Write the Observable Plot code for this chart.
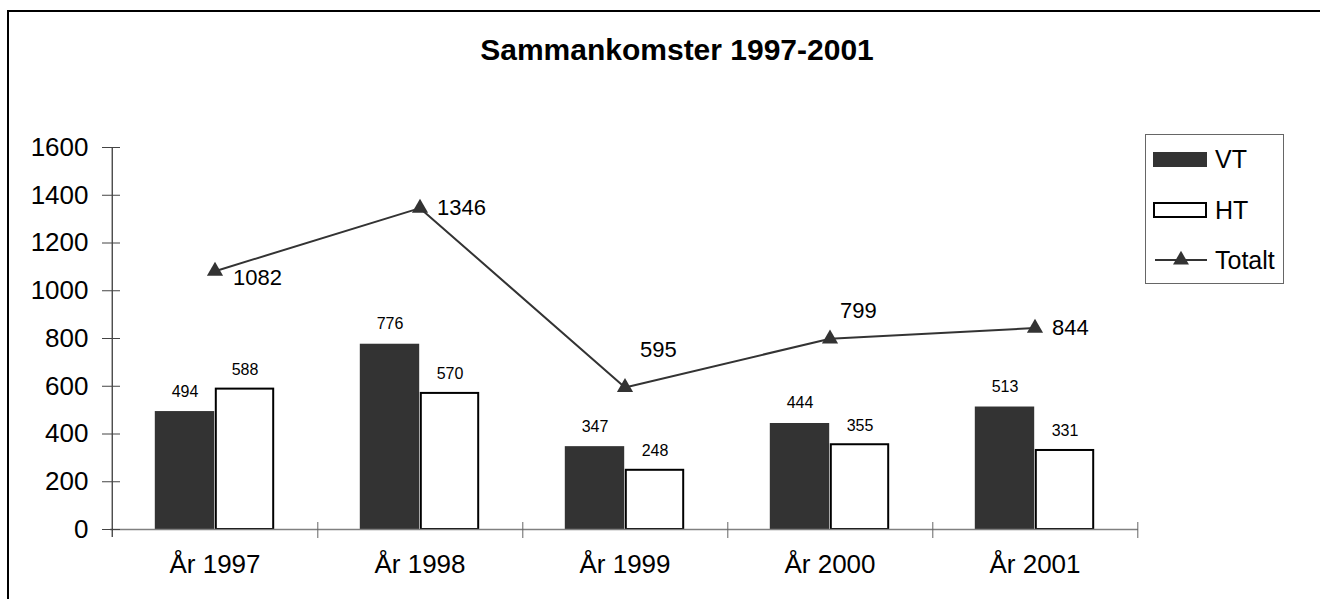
<!DOCTYPE html>
<html>
<head>
<meta charset="utf-8">
<script src="https://cdn.jsdelivr.net/npm/d3@7"></script>
<script src="https://cdn.jsdelivr.net/npm/@observablehq/plot@0.6"></script>
<style>
  html, body { margin: 0; padding: 0; background: #fff; overflow: hidden; }
  body { width: 1320px; height: 599px; position: relative; font-family: "Liberation Sans", Arial, sans-serif; }
  #border { position: absolute; left: 7px; top: 10px; width: 1311px; height: 587px; border-left: 2px solid #000; border-top: 2px solid #000; }
  #chart { position: absolute; left: 0; top: 0; }
  #title { position: absolute; left: 677px; top: 35px; transform: translateX(-50%); font-weight: bold; font-size: 30px; line-height: 30px; white-space: nowrap; color: #000; }
  #legend { position: absolute; left: 1145px; top: 134px; width: 139px; height: 150px; box-sizing: border-box; border: 1px solid #666; background: #fff; }
  .item { position: absolute; left: 0; height: 30px; width: 137px; display: flex; align-items: center; }
  .item svg { flex: none; }
  .item span { font-size: 25px; line-height: 30px; color: #000; margin-left: 1px; }
</style>
</head>
<body>
<div id="border"></div>
<div id="chart"></div>
<div id="title"></div>
<div id="legend"></div>
<script>
// ---- data ----
const categories = ["År 1997", "År 1998", "År 1999", "År 2000", "År 2001"];
const vtValues = [494, 776, 347, 444, 513];
const htValues = [588, 570, 248, 355, 331];
const totalValues = [1082, 1346, 595, 799, 844];
const yTicks = [0, 200, 400, 600, 800, 1000, 1200, 1400, 1600];
const seriesNames = ["VT", "HT", "Totalt"];
const totalLabelPlacement = ["belowRight", "right", "above", "aboveNear", "right"];
const chartTitle = "Sammankomster 1997-2001";

// ---- layout ----
const W = 1320, H = 599;
const mL = 110, mR = 182, mT = 147, mB = 70;
const plotW = W - mL - mR, plotH = H - mT - mB;
const bw = plotW / categories.length;
const barW = 60;
const dark = "#333333";

const rows = categories.map((c, i) => ({
  cat: c, vt: vtValues[i], ht: htValues[i], total: totalValues[i], place: totalLabelPlacement[i]
}));

const placeOffsets = {
  right: {dx: 17, dy: 0},
  belowRight: {dx: 18, dy: 7},
  above: {dx: 15, dy: -37},
  aboveNear: {dx: 10, dy: -28}
};

const labelMarks = Object.entries(placeOffsets).map(([p, o]) =>
  Plot.text(rows.filter(d => d.place === p), {
    x: "cat", y: "total", text: d => String(d.total),
    dx: o.dx, dy: o.dy, textAnchor: "start", lineAnchor: "middle",
    fontSize: 22, fill: "#000"
  })
);

const chart = Plot.plot({
  width: W, height: H,
  marginLeft: mL, marginRight: mR, marginTop: mT, marginBottom: mB,
  style: {fontFamily: '"Liberation Sans", Arial, sans-serif', background: "transparent", overflow: "visible", color: "#000"},
  x: {type: "band", domain: categories, paddingInner: 0, paddingOuter: 0, label: null},
  y: {domain: [0, 1600], label: null},
  marks: [
    Plot.barY(rows, {x: "cat", y: "vt", fill: dark, insetLeft: bw / 2 - barW, insetRight: bw / 2}),
    Plot.barY(rows, {x: "cat", y: "ht", fill: "#fff", stroke: "#000", strokeWidth: 2,
      insetLeft: bw / 2 + 1, insetRight: bw / 2 - barW + 1}),
    Plot.ruleY([0], {stroke: "#808080", strokeWidth: 1.5}),
    Plot.tickX([categories[0]], {x: d => d, dx: -bw / 2, insetBottom: -8, stroke: "#000", strokeWidth: 1}),
    Plot.tickY(yTicks, {y: d => d, insetRight: plotW - 18, dx: -8, stroke: "#444", strokeWidth: 1}),
    Plot.tickX(categories, {x: d => d, dx: bw / 2, insetTop: plotH - 16, dy: 9, stroke: "#666", strokeWidth: 1}),
    Plot.axisY({ticks: yTicks, tickSize: 0, tickPadding: 22, fontSize: 26, label: null, tickFormat: d => String(d)}),
    Plot.axisX({tickSize: 0, tickPadding: 25, fontSize: 26, label: null}),
    Plot.text(rows, {x: "cat", y: "vt", text: d => String(d.vt), dx: -barW / 2, dy: -15, lineAnchor: "bottom", fontSize: 16, fill: "#000"}),
    Plot.text(rows, {x: "cat", y: "ht", text: d => String(d.ht), dx: barW / 2, dy: -14, lineAnchor: "bottom", fontSize: 16, fill: "#000"}),
    Plot.line(rows, {x: "cat", y: "total", stroke: dark, strokeWidth: 2}),
    Plot.dot(rows, {x: "cat", y: "total", symbol: "triangle", r: 6, fill: dark, stroke: "none"}),
    ...labelMarks
  ]
});
document.getElementById("chart").appendChild(chart);

document.getElementById("title").textContent = chartTitle;

// ---- legend ----
const legend = document.getElementById("legend");
const ns = "http://www.w3.org/2000/svg";
const centers = [24, 75, 125];
seriesNames.forEach((name, i) => {
  const item = document.createElement("div");
  item.className = "item";
  item.style.top = (centers[i] - 15) + "px";
  const svg = document.createElementNS(ns, "svg");
  svg.setAttribute("width", 68);
  svg.setAttribute("height", 30);
  if (i === 0) {
    const r = document.createElementNS(ns, "rect");
    r.setAttribute("x", 7); r.setAttribute("y", 8); r.setAttribute("width", 54); r.setAttribute("height", 15);
    r.setAttribute("fill", dark);
    svg.appendChild(r);
  } else if (i === 1) {
    const r = document.createElementNS(ns, "rect");
    r.setAttribute("x", 8); r.setAttribute("y", 8); r.setAttribute("width", 52); r.setAttribute("height", 14);
    r.setAttribute("fill", "#fff"); r.setAttribute("stroke", "#000"); r.setAttribute("stroke-width", 2);
    svg.appendChild(r);
  } else {
    const l = document.createElementNS(ns, "line");
    l.setAttribute("x1", 9); l.setAttribute("x2", 61); l.setAttribute("y1", 15); l.setAttribute("y2", 15);
    l.setAttribute("stroke", dark); l.setAttribute("stroke-width", 2);
    svg.appendChild(l);
    const t = document.createElementNS(ns, "path");
    t.setAttribute("d", d3.symbol(d3.symbolTriangle, 110)());
    t.setAttribute("transform", "translate(35,15)");
    t.setAttribute("fill", dark);
    svg.appendChild(t);
  }
  item.appendChild(svg);
  const span = document.createElement("span");
  span.textContent = name;
  item.appendChild(span);
  legend.appendChild(item);
});
</script>
</body>
</html>
